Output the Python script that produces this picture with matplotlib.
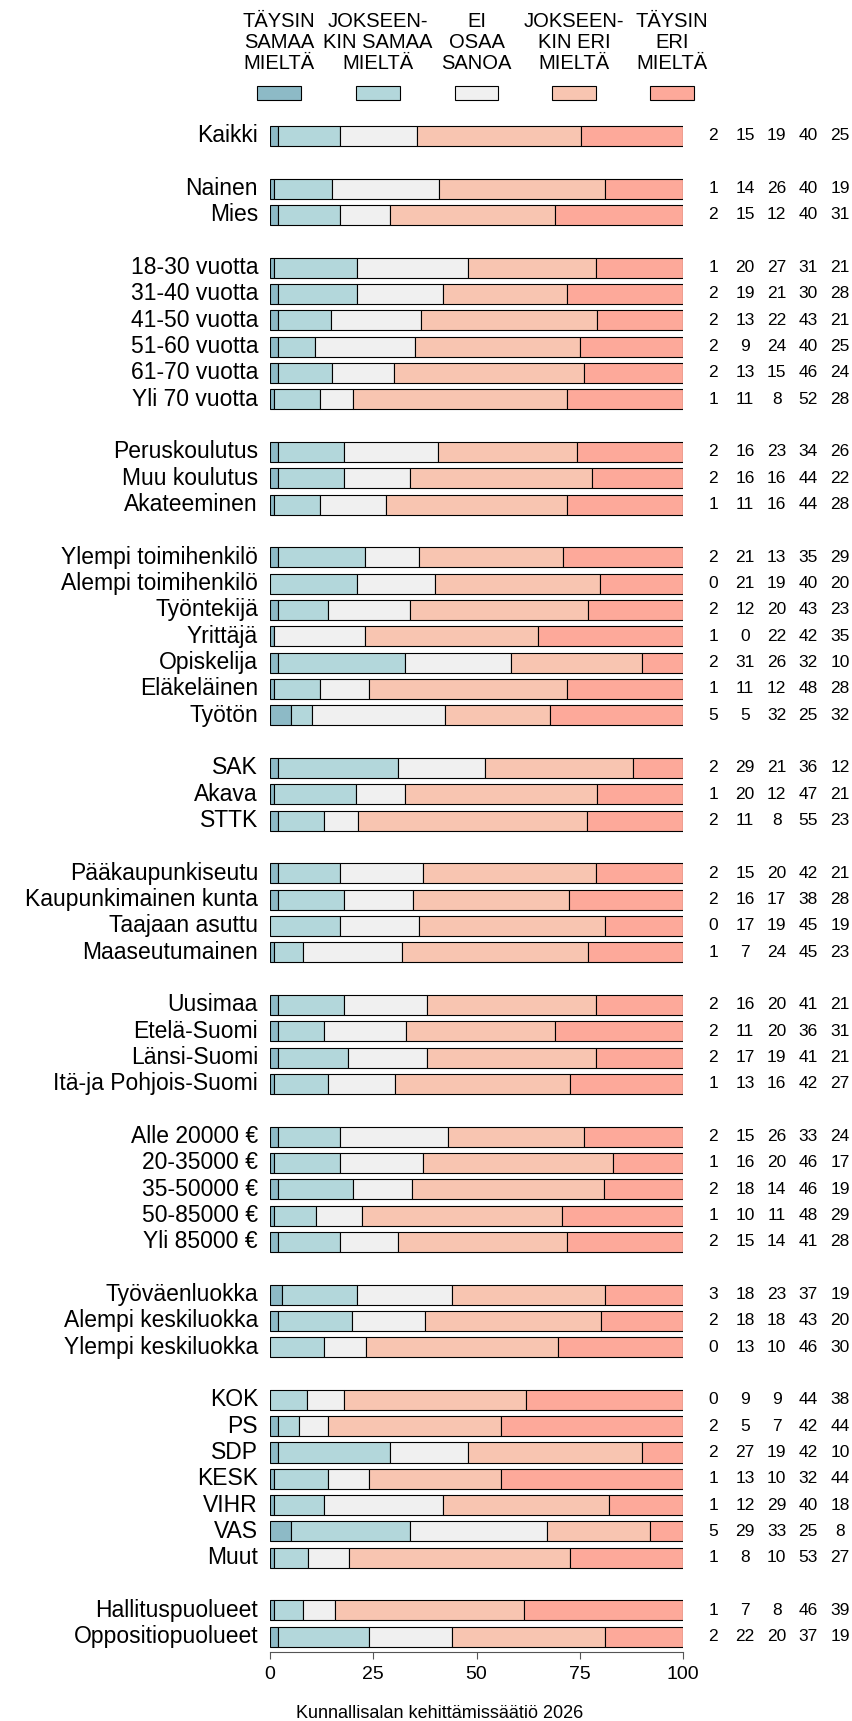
import numpy as np
import matplotlib
matplotlib.use("Agg")
import matplotlib.pyplot as plt

plt.rcParams['font.family'] = ['Liberation Sans', 'DejaVu Sans']

# rivit ryhmittäin
groups = [
    ["Kaikki"],
    ["Nainen", "Mies"],
    ["18-30 vuotta", "31-40 vuotta", "41-50 vuotta", "51-60 vuotta", "61-70 vuotta", "Yli 70 vuotta"],
    ["Peruskoulutus", "Muu koulutus", "Akateeminen"],
    ["Ylempi toimihenkilö", "Alempi toimihenkilö", "Työntekijä", "Yrittäjä", "Opiskelija",
     "Eläkeläinen", "Työtön"],
    ["SAK", "Akava", "STTK"],
    ["Pääkaupunkiseutu", "Kaupunkimainen kunta", "Taajaan asuttu", "Maaseutumainen"],
    ["Uusimaa", "Etelä-Suomi", "Länsi-Suomi", "Itä-ja Pohjois-Suomi"],
    ["Alle 20000 €", "20-35000 €", "35-50000 €", "50-85000 €", "Yli 85000 €"],
    ["Työväenluokka", "Alempi keskiluokka", "Ylempi keskiluokka"],
    ["KOK", "PS", "SDP", "KESK", "VIHR", "VAS", "Muut"],
    ["Hallituspuolueet", "Oppositiopuolueet"],
]

taysin_samaa = [2, 1, 2, 1, 2, 2, 2, 2, 1, 2, 2, 1, 2, 0, 2, 1, 2, 1, 5, 2, 1, 2,
                2, 2, 0, 1, 2, 2, 2, 1, 2, 1, 2, 1, 2, 3, 2, 0, 0, 2, 2, 1, 1, 5, 1, 1, 2]
jokseenkin_samaa = [15, 14, 15, 20, 19, 13, 9, 13, 11, 16, 16, 11, 21, 21, 12, 0, 31, 11, 5, 29, 20, 11,
                    15, 16, 17, 7, 16, 11, 17, 13, 15, 16, 18, 10, 15, 18, 18, 13, 9, 5, 27, 13, 12, 29, 8, 7, 22]
ei_osaa = [19, 26, 12, 27, 21, 22, 24, 15, 8, 23, 16, 16, 13, 19, 20, 22, 26, 12, 32, 21, 12, 8,
           20, 17, 19, 24, 20, 20, 19, 16, 26, 20, 14, 11, 14, 23, 18, 10, 9, 7, 19, 10, 29, 33, 10, 8, 20]
jokseenkin_eri = [40, 40, 40, 31, 30, 43, 40, 46, 52, 34, 44, 44, 35, 40, 43, 42, 32, 48, 25, 36, 47, 55,
                  42, 38, 45, 45, 41, 36, 41, 42, 33, 46, 46, 48, 41, 37, 43, 46, 44, 42, 42, 32, 40, 25, 53, 46, 37]
taysin_eri = [25, 19, 31, 21, 28, 21, 25, 24, 28, 26, 22, 28, 29, 20, 23, 35, 10, 28, 32, 12, 21, 23,
              21, 28, 19, 23, 21, 31, 21, 27, 24, 17, 19, 29, 28, 19, 20, 30, 38, 44, 10, 44, 18, 8, 27, 39, 19]

legend_labels = ["TÄYSIN\nSAMAA\nMIELTÄ", "JOKSEEN-\nKIN SAMAA\nMIELTÄ", "EI\nOSAA\nSANOA",
                 "JOKSEEN-\nKIN ERI\nMIELTÄ", "TÄYSIN\nERI\nMIELTÄ"]
colors = ["#8DBAC6", "#B3D7DB", "#F0F0F0", "#F8C5B1", "#FDA99A"]
caption = "Kunnallisalan kehittämissäätiö 2026"

series = np.array([taysin_samaa, jokseenkin_samaa, ei_osaa, jokseenkin_eri, taysin_eri], dtype=float)
shares = series / series.sum(axis=0) * 100

# y-paikat: tyhjä rivi ryhmien välissä
labels, ypos = [], []
slot = 0
for g in groups:
    for lab in g:
        labels.append(lab)
        ypos.append(slot)
        slot += 1
    slot += 1
ypos = np.array(ypos)

W, H = 852, 1721
fig = plt.figure(figsize=(W / 100, H / 100), dpi=100)
x0, x1 = 270, 683
top, bottom = 110, 1652
ax = fig.add_axes([x0 / W, 1 - bottom / H, (x1 - x0) / W, (bottom - top) / H])

pitch = 26.33
ax.set_ylim((bottom - 136) / pitch, (top - 136) / pitch)
ax.set_xlim(0, 100)

left = np.zeros(len(labels))
for i in range(5):
    ax.barh(ypos, shares[i], left=left, height=0.76, color=colors[i],
            edgecolor="black", linewidth=0.8)
    left += shares[i]

for y, lab in zip(ypos, labels):
    ax.text(-2.9, y, lab, ha="right", va="center", fontsize=16.5)

num_x = [107.3, 115.0, 122.7, 130.3, 138.0]
for j, y in enumerate(ypos):
    for i in range(5):
        ax.text(num_x[i], y, "%d" % series[i, j], ha="center", va="center",
                fontsize=12.5, clip_on=False)

# selite
leg_x = [2.2, 26.1, 50.0, 73.6, 97.3]
for i in range(5):
    ax.text(leg_x[i], -3.55, legend_labels[i], ha="center", va="center",
            fontsize=14.5, linespacing=1.15, clip_on=False)
    ax.add_patch(plt.Rectangle((leg_x[i] - 5.3, -1.37), 10.6, -0.53, facecolor=colors[i],
                               edgecolor="black", linewidth=0.8, clip_on=False))

for s in ["top", "right", "left"]:
    ax.spines[s].set_visible(False)
ax.spines["bottom"].set_bounds(0, 100)
ax.spines["bottom"].set_color("#555555")
ax.set_yticks([])
ax.set_xticks([0, 25, 50, 75, 100])
ax.tick_params(axis="x", length=5, color="#555555", labelsize=14, pad=5)

fig.text(440 / W, 1 - 1713 / H, caption, ha="center", va="center", fontsize=13)

fig.savefig("out.png", dpi=100)
